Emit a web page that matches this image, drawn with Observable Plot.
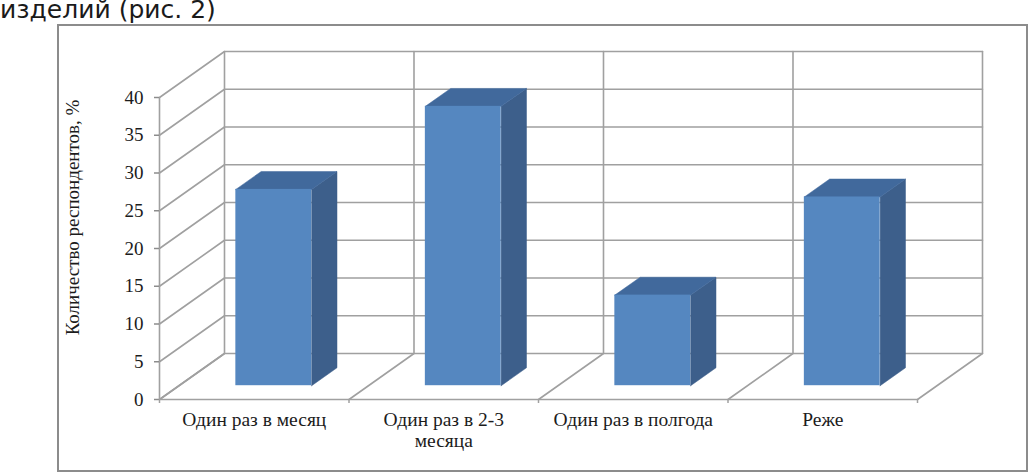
<!DOCTYPE html>
<html><head><meta charset="utf-8">
<script src="https://cdn.jsdelivr.net/npm/d3@7"></script>
<script src="https://cdn.jsdelivr.net/npm/@observablehq/plot@0.6"></script>
<style>
html,body{margin:0;padding:0;background:#fff;overflow:hidden}
#wrap{position:relative;width:1029px;height:472px;overflow:hidden}
#head{position:absolute;left:0;top:-2px;font:25px/24px "DejaVu Sans";color:#1a1a1a;white-space:nowrap}
#box{position:absolute;left:57px;top:24px;width:967px;height:444px;border:2px solid #8c8c8c}
#chart{position:absolute;left:0;top:0}
</style></head><body>
<div id="wrap"><div id="head">изделий (рис. 2)</div><div id="box"></div><div id="chart"></div></div>
<script>
const categories = ["Один раз в месяц", "Один раз в 2-3\nмесяца", "Один раз в полгода", "Реже"];
const values = [26, 37, 12, 25];
const yTicks = [0, 5, 10, 15, 20, 25, 30, 35, 40];
const xEdges = [0, 1, 2, 3, 4];
const yTitle = "Количество респондентов, %";

// oblique depth: how far the back wall sits from the front plane, in data units
const depthX = 0.343, depthY = 6.09;
const barGap = 0.3, barWidth = 0.4, barFrontDepth = 0.3, barDepth = 0.39;

const grid = "#a0a0a0", ink = "#1c1c1c";
const frontFill = "#5587c0", sideFill = "#3d5f8b", topFill = "#41699c";

const wallLines = [
  ...yTicks.map(v => ({id: "h" + v, pts: [[0, v], [depthX, v + depthY], [4 + depthX, v + depthY]]})),
  ...xEdges.map(e => ({id: "v" + e, pts: [[e, 0], [e + depthX, depthY], [e + depthX, 40 + depthY]]}))
].flatMap(l => l.pts.map(([x, y]) => ({id: l.id, x, y})));

const frontLines = [
  {id: "axisY", x: 0, y: 0}, {id: "axisY", x: 0, y: 40},
  {id: "axisX", x: 0, y: 0}, {id: "axisX", x: 4, y: 0}
];

const bars = values.map((v, i) => {
  const sx = depthX * barFrontDepth, sy = depthY * barFrontDepth;
  const dx = depthX * barDepth, dy = depthY * barDepth;
  const x1 = i + barGap + sx, x2 = x1 + barWidth, y1 = sy, y2 = v + sy;
  return {i, x1, x2, y1, y2, dx, dy};
});
const side = bars.flatMap(b => [
  {id: b.i, x: b.x2, y: b.y1}, {id: b.i, x: b.x2 + b.dx, y: b.y1 + b.dy},
  {id: b.i, x: b.x2 + b.dx, y: b.y2 + b.dy}, {id: b.i, x: b.x2, y: b.y2}, {id: b.i, x: b.x2, y: b.y1}
]);
const topFace = bars.flatMap(b => [
  {id: b.i, x: b.x1, y: b.y2}, {id: b.i, x: b.x1 + b.dx, y: b.y2 + b.dy},
  {id: b.i, x: b.x2 + b.dx, y: b.y2 + b.dy}, {id: b.i, x: b.x2, y: b.y2}, {id: b.i, x: b.x1, y: b.y2}
]);

const chart = Plot.plot({
  width: 1029, height: 472,
  marginLeft: 159, marginRight: 112, marginTop: 97, marginBottom: 73,
  style: {background: "transparent", fontFamily: "'Liberation Serif'", fontSize: "19px", color: ink},
  x: {type: "linear", domain: [0, 4]},
  y: {type: "linear", domain: [0, 40]},
  marks: [
    Plot.line(wallLines, {x: "x", y: "y", z: "id", stroke: grid, strokeWidth: 1.6, curve: "linear"}),
    Plot.line(frontLines, {x: "x", y: "y", z: "id", stroke: grid, strokeWidth: 1.6}),
    Plot.axisY({ticks: yTicks, tickSize: 5, tickPadding: 11, stroke: "#8c8c8c", fill: ink, label: null, strokeWidth: 1.5, fontSize: 19}),
    Plot.axisX({ticks: xEdges, tickSize: 4, stroke: grid, strokeWidth: 1.5, tickFormat: () => "", label: null}),
    Plot.axisX({ticks: categories.map((c, i) => i + 0.5), tickSize: 0, tickPadding: 11, fill: ink, label: null, lineHeight: 1.1,
      tickFormat: d => categories[Math.floor(d)], fontSize: 19.5}),
    Plot.line(side, {x: "x", y: "y", z: "id", fill: sideFill, stroke: sideFill, strokeWidth: 0.5}),
    Plot.line(topFace, {x: "x", y: "y", z: "id", fill: topFill, stroke: topFill, strokeWidth: 0.5}),
    Plot.rect(bars, {x1: "x1", x2: "x2", y1: "y1", y2: "y2", fill: frontFill}),
    Plot.text([yTitle], {frameAnchor: "left", textAnchor: "middle", dx: -87, dy: -31, rotate: -90, text: d => d, fill: ink, fontSize: 19})
  ]
});
document.getElementById("chart").append(chart);
</script>
</body></html>
